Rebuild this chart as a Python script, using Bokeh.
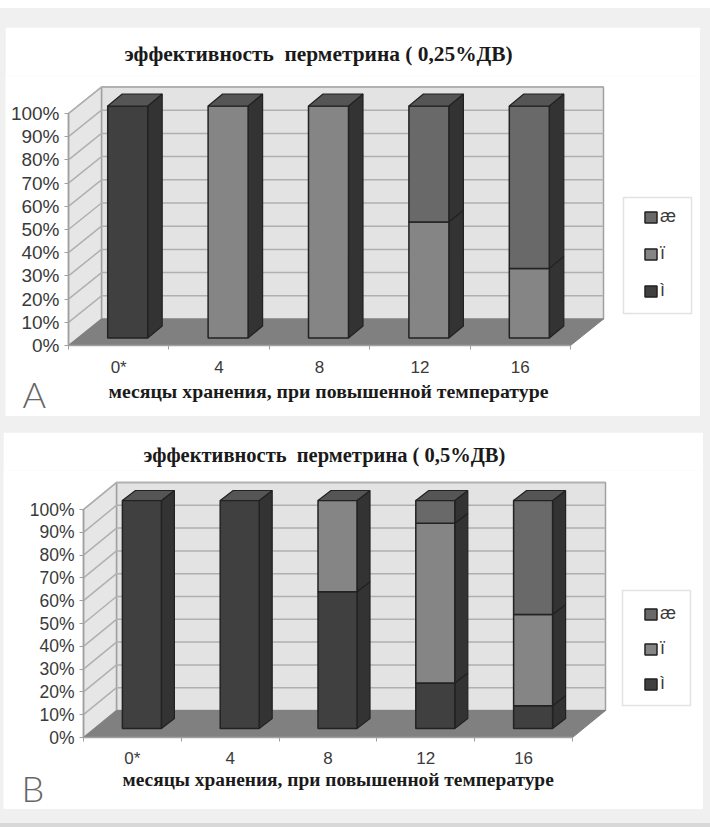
from bokeh.embed import file_html
from bokeh.layouts import column
from bokeh.models import (BoxAnnotation, FixedTicker, Label, Legend, LegendItem,
                          LinearAxis, Spacer, Title)
from bokeh.plotting import figure
from bokeh.resources import INLINE

months = ["0*", "4", "8", "12", "16"]
series_names = ["ì", "ï", "æ"]
percent_ticks = [0, 10, 20, 30, 40, 50, 60, 70, 80, 90, 100]

low_a = [100, 0, 0, 0, 0]
mid_a = [0, 100, 100, 50, 30]
high_a = [0, 0, 0, 50, 70]

low_b = [100, 100, 60, 20, 10]
mid_b = [0, 0, 40, 70, 40]
high_b = [0, 0, 0, 10, 50]

title_a = "эффективность\u00a0\u00a0перметрина ( 0,25%ДВ)"
title_b = "эффективность\u00a0\u00a0перметрина ( 0,5%ДВ)"
xlabel = "месяцы хранения, при повышенной температуре"

FACE = ["#404040", "#858585", "#696969"]
SIDE = "#333333"
TOP = "#555555"
EDGE = "#222222"
WALL = "#e3e3e3"
FLOOR = "#808080"
GRID = "#b0b0b0"
FRAME = "#a0a0a0"
TEXT = "#3a3a3a"


def panel(series, title, letter, g):
    """One pseudo-3D stacked column chart; g holds its layout in page pixels."""
    sx = g["cat_w"]          # pixels per category
    sy = g["h100"] / 100.0   # pixels per percent
    left = g["axis_x"] - g["fig_x"]
    top = g["frame_top"] - g["fig_y"]
    bottom = g["fig_y"] + g["h"] - g["axis_y"]
    n = len(months)

    # the frame fills the panel below the title; both axes sit inside it at zero
    p = figure(width=g["w"], height=g["h"], output_backend="svg", toolbar_location=None,
               x_range=(-left / sx, (g["w"] - left) / sx),
               y_range=(-bottom / sy, (g["h"] - top - bottom) / sy),
               x_axis_location=None, y_axis_location=None,
               min_border_left=0, min_border_right=0, min_border_top=top, min_border_bottom=0,
               margin=g["margin"], background_fill_color="white",
               border_fill_color="white", outline_line_color=None, tools="")
    p.frame_align = False
    p.grid.visible = False

    # walls and floor of the box, pushed back by the depth offset
    dx, dy = g["depth"][0] / sx, g["depth"][1] / sy
    p.patch([dx, dx + n, dx + n, dx], [dy, dy, dy + 100, dy + 100],
            fill_color=WALL, line_color=FRAME, line_width=1.5)
    p.patch([0, dx, dx, 0], [0, dy, dy + 100, 100],
            fill_color="#e6e6e6", line_color=FRAME, line_width=1.5)
    rows = [t for t in percent_ticks if t > 0]
    p.multi_line([[0, dx, dx + n] for _ in rows],
                 [[t, t + dy, t + dy] for t in rows],
                 line_color=GRID, line_width=1.5)
    p.patch([0, n, n + dx, dx], [0, 0, dy, dy], fill_color=FLOOR, line_color=FLOOR)

    # stacked columns: side and top faces first, then the front faces
    fx, fy = g["front"][0] / sx, g["front"][1] / sy
    bx, by = g["bar_depth"][0] / sx, g["bar_depth"][1] / sy
    half = g["bar_w"] / sx / 2
    renderers = []
    totals = [0] * n
    for k, values in enumerate(series):
        xs, tops, bottoms = [], [], []
        for i, v in enumerate(values):
            if v == 0:
                continue
            c = i + 0.5 + fx
            b0, t0 = totals[i] + fy, totals[i] + v + fy
            totals[i] += v
            xs.append(c)
            bottoms.append(b0)
            tops.append(t0)
            p.patch([c + half, c + half + bx, c + half + bx, c + half],
                    [b0, b0 + by, t0 + by, t0],
                    fill_color=SIDE, line_color=EDGE, line_width=1.2)
        renderers.append(p.vbar(x=xs, top=tops, bottom=bottoms, width=2 * half,
                                fill_color=FACE[k], line_color=EDGE, line_width=1.5))
    for i in range(n):
        c = i + 0.5 + fx
        t0 = totals[i] + fy
        p.patch([c - half, c + half, c + half + bx, c - half + bx],
                [t0, t0, t0 + by, t0 + by],
                fill_color=TOP, line_color=EDGE, line_width=1.2)

    # axes
    ya = LinearAxis(fixed_location=0, ticker=FixedTicker(ticks=percent_ticks),
                    major_label_overrides={t: f"{t}%" for t in percent_ticks},
                    bounds=(0, 100), axis_line_color=FRAME, axis_line_width=1.5,
                    major_tick_line_color=FRAME, major_tick_out=4, major_tick_in=0,
                    minor_tick_line_color=None, major_label_standoff=5,
                    major_label_text_font="Liberation Sans",
                    major_label_text_font_size=g["y_font"], major_label_text_color=TEXT)
    p.add_layout(ya, "left")

    centers = [i + 0.5 for i in range(n)]
    xa = LinearAxis(fixed_location=0,
                    ticker=FixedTicker(ticks=centers, minor_ticks=list(range(n + 1))),
                    major_label_overrides=dict(zip(centers, months)),
                    bounds=(0, n), axis_line_color=FRAME, axis_line_width=1.5,
                    major_tick_line_color=None, minor_tick_line_color=FRAME,
                    minor_tick_out=4, minor_tick_in=0, major_label_standoff=g["x_standoff"],
                    major_label_text_font="Liberation Sans", major_label_text_font_size="17px",
                    major_label_text_color=TEXT)
    p.add_layout(xa, "below")

    # chart title, bottom caption, panel letter
    p.add_layout(Title(text=title, align="left", offset=g["title_x"] - g["fig_x"],
                       standoff=g["title_standoff"], text_font="Liberation Serif",
                       text_font_style="bold", text_font_size=g["title_font"],
                       text_color="#1a1a1a"), "above")
    p.add_layout(Label(x=(g["xlabel_x"] - g["axis_x"]) / sx, y=(g["axis_y"] - g["xlabel_y"]) / sy,
                       text=xlabel, text_font="Liberation Serif", text_font_style="bold",
                       text_font_size=g["xlabel_font"], text_color="#1a1a1a",
                       text_baseline="middle"))
    p.add_layout(Label(x=(g["letter_x"] - g["axis_x"]) / sx, y=(g["axis_y"] - g["letter_y"]) / sy,
                       text=letter, text_font="Lato Light", text_font_size="36px",
                       text_color="#666666", text_baseline="middle"))

    # legend frame and entries, topmost series first
    lx0, lx1, ly0, ly1 = g["legend_box"]
    p.add_layout(BoxAnnotation(left=(lx0 - g["axis_x"]) / sx, right=(lx1 - g["axis_x"]) / sx,
                               bottom=(g["axis_y"] - ly1) / sy,
                               top=(g["axis_y"] - ly0) / sy,
                               fill_color="white", fill_alpha=1, line_color=FRAME, line_width=1.5,
                               level="glyph"))
    legend = Legend(items=[LegendItem(label=series_names[k], renderers=[renderers[k]])
                           for k in (2, 1, 0)],
                    location=(g["legend_x"] - g["fig_x"], g["fig_y"] + g["h"] - g["legend_bottom"]),
                    orientation="vertical", padding=0, margin=0, spacing=g["legend_gap"],
                    glyph_width=15, glyph_height=14, label_height=14, label_standoff=2,
                    label_text_font="Liberation Sans", label_text_font_size="18px",
                    label_text_color=TEXT, background_fill_alpha=0, border_line_color=None)
    p.add_layout(legend, "center")
    return p


layout_a = dict(fig_x=5, fig_y=27, w=695, h=389, margin=(19, 10, 0, 5),
                axis_x=68, axis_y=345, frame_top=75,
                cat_w=100.4, h100=232, depth=(33, 26.5), front=(9, 7.5), bar_depth=(14.5, 12),
                bar_w=40, y_font="19px", x_standoff=6,
                title_x=124, title_standoff=20, title_font="21.4px",
                xlabel_x=108, xlabel_y=390, xlabel_font="19.8px", letter_x=22, letter_y=393,
                legend_box=(623, 691, 197, 313), legend_x=643, legend_bottom=301, legend_gap=16)
layout_b = dict(fig_x=3, fig_y=432, w=700, h=377, margin=(16, 7, 14, 3),
                axis_x=83, axis_y=737, frame_top=470,
                cat_w=97.8, h100=228, depth=(33, 27), front=(9.5, 9), bar_depth=(13, 10),
                bar_w=39, y_font="17.5px", x_standoff=5,
                title_x=143, title_standoff=9, title_font="20.5px",
                xlabel_x=122, xlabel_y=779, xlabel_font="19.4px", letter_x=21, letter_y=787,
                legend_box=(622, 690, 590, 705), legend_x=643, legend_bottom=694, legend_gap=14)

fig_a = panel([low_a, mid_a, high_a], title_a, "A", layout_a)
fig_b = panel([low_b, mid_b, high_b], title_b, "B", layout_b)

page = column(Spacer(width=710, height=8, styles={"background-color": "white"}),
              fig_a, fig_b,
              Spacer(width=710, height=4, styles={"background-color": "#d8d8d8"}),
              width=710, height=827, styles={"background-color": "#f0f0f0"})

open("out.html", "w").write(file_html(page, INLINE))
